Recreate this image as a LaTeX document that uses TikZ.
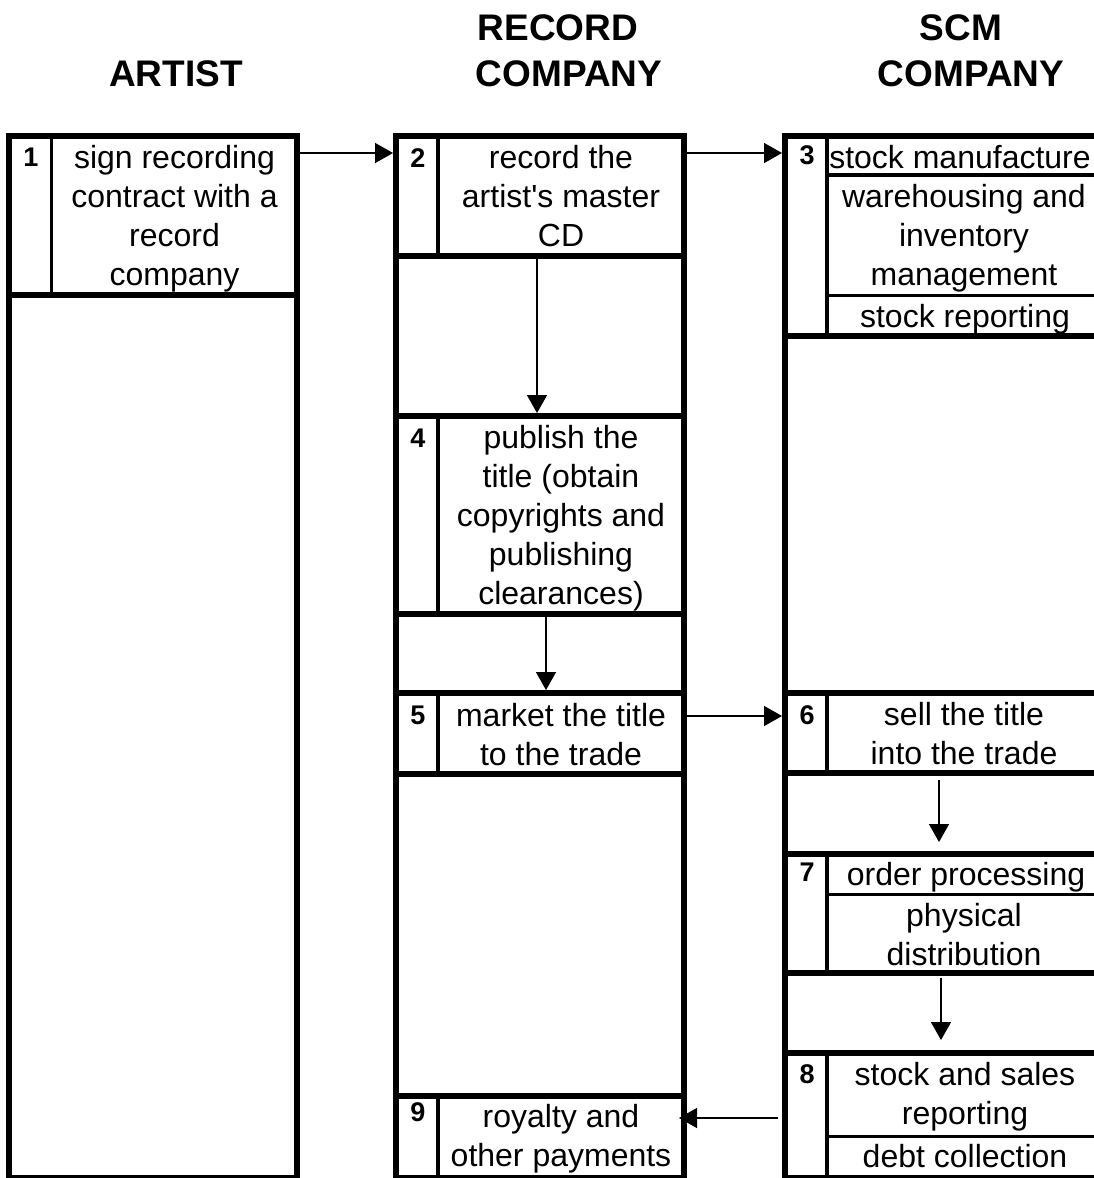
\documentclass[tikz,border=0pt]{standalone}
\usepackage{fontspec}
\setmainfont{Liberation Sans}[Ligatures=TeXOff]
\usetikzlibrary{arrows.meta}
\begin{document}
\begin{tikzpicture}[x=1pt,y=-1pt,
  lane/.style={draw, line width=6pt, inner sep=0pt},
  stepbox/.style={draw, line width=6pt, inner sep=0pt},
  div/.style={line width=3.5pt},
  txt/.style={inner sep=0pt, align=center, font=\fontsize{32}{39}\selectfont},
  num/.style={inner sep=0pt, anchor=base, font=\fontsize{27}{32}\selectfont\bfseries},
  head/.style={inner sep=0pt, anchor=base, font=\fontsize{37}{47}\selectfont\bfseries},
  arr/.style={line width=1.5pt, -{Triangle[length=18pt,width=20pt]}},
]
\useasboundingbox (0,0) rectangle (1094,1178);
\clip (0,0) rectangle (1094,1178);

% headers
\node[head] (hA) at (176,86) {ARTIST};
\node[head] (hR1) at (558,40) {RECORD};
\node[head] (hR2) at (569,86) {COMPANY};
\node[head] (hS1) at (961,40) {SCM};
\node[head] (hS2) at (971,86) {COMPANY};

% lanes
\node[lane, minimum width=288pt, minimum height=1042pt] (artist) at (153,657) {};
\node[lane, minimum width=288pt, minimum height=1042pt] (record) at (540,657) {};
\node[lane, minimum width=315pt, minimum height=1042pt] (scm) at (942.5,657) {};

% step boxes
\node[stepbox, minimum width=288pt, minimum height=159pt] (s1) at (153,215.5) {};
\node[stepbox, minimum width=288pt, minimum height=120pt] (s2) at (540,196) {};
\node[stepbox, minimum width=315pt, minimum height=200pt] (s3) at (942.5,236) {};
\node[stepbox, minimum width=288pt, minimum height=198pt] (s4) at (540,515) {};
\node[stepbox, minimum width=288pt, minimum height=81pt] (s5) at (540,733.5) {};
\node[stepbox, minimum width=315pt, minimum height=80pt] (s6) at (942.5,733) {};
\node[stepbox, minimum width=315pt, minimum height=119pt] (s7) at (942.5,913.5) {};
\node[stepbox, minimum width=315pt, minimum height=125pt] (s8) at (942.5,1115.5) {};
\node[stepbox, minimum width=288pt, minimum height=82pt] (s9) at (540,1137) {};

% number dividers
\draw[div] (51.5,136) -- (51.5,295);
\draw[div] (438,136) -- (438,256);
\draw[div] (438,416) -- (438,614);
\draw[div] (438,693) -- (438,774);
\draw[div] (438,1096) -- (438,1178);
\draw[div] (827,136) -- (827,336);
\draw[div] (827,693) -- (827,773);
\draw[div] (827,854) -- (827,973);
\draw[div] (827,1053) -- (827,1178);

% sub-cell separators
\draw[div] (827,175) -- (1100,175);
\draw[div] (827,295.5) -- (1100,295.5);
\draw[div] (827,894.5) -- (1100,894.5);
\draw[div] (827,1136.5) -- (1100,1136.5);

% numbers
\node[num] (n1) at (31,166) {1};
\node[num] (n2) at (418,167) {2};
\node[num] (n3) at (807,164) {3};
\node[num] (n4) at (418,447) {4};
\node[num] (n5) at (418,724.5) {5};
\node[num] (n6) at (807,724) {6};
\node[num] (n7) at (807,881) {7};
\node[num] (n8) at (807,1083.5) {8};
\node[num] (n9) at (418,1121) {9};

% texts
\node[txt] (t1) at (174.5,219) {sign recording\strut\\contract with a\strut\\record\strut\\company\strut};
\node[txt] (t2) at (561,199.5) {record the\strut\\artist's master\strut\\CD\strut};
\node[txt] (t3a) at (960,161) {stock manufacture\strut};
\node[txt] (t3b) at (964,239) {warehousing and\strut\\inventory\strut\\management\strut};
\node[txt] (t3c) at (965,320) {stock reporting\strut};
\node[txt] (t4) at (561,518.5) {publish the\strut\\title (obtain\strut\\copyrights and\strut\\publishing\strut\\clearances)\strut};
\node[txt] (t5) at (561,738) {market the title\strut\\to the trade\strut};
\node[txt] (t6) at (964,737.5) {sell the title\strut\\into the trade\strut};
\node[txt] (t7a) at (966,877.5) {order processing\strut};
\node[txt] (t7b) at (964,938) {physical\strut\\distribution\strut};
\node[txt] (t8a) at (965,1097) {stock and sales\strut\\reporting\strut};
\node[txt] (t8b) at (965,1160) {debt collection\strut};
\node[txt] (t9) at (561,1139) {royalty and\strut\\other payments\strut};

% connectors
\draw[arr] (s1.east |- 0,153) -- (s2.west |- 0,153);
\draw[arr] (s2.east |- 0,153) -- (s3.west |- 0,153);
\draw[arr] (s2.south -| 537,0) -- (s4.north -| 537,0);
\draw[arr] (s4.south -| 546,0) -- (s5.north -| 546,0);
\draw[arr] (s5.east |- 0,716) -- (s6.west |- 0,716);
\draw[arr, shorten <=4pt, shorten >=9pt] (s6.south -| 939,0) -- (s7.north -| 939,0);
\draw[arr, shorten <=2pt, shorten >=10pt] (s7.south -| 941,0) -- (s8.north -| 941,0);
\draw[arr, shorten <=4pt, shorten >=-8pt] (s8.west |- 0,1118) -- (s9.east |- 0,1118);
\end{tikzpicture}
\end{document}
